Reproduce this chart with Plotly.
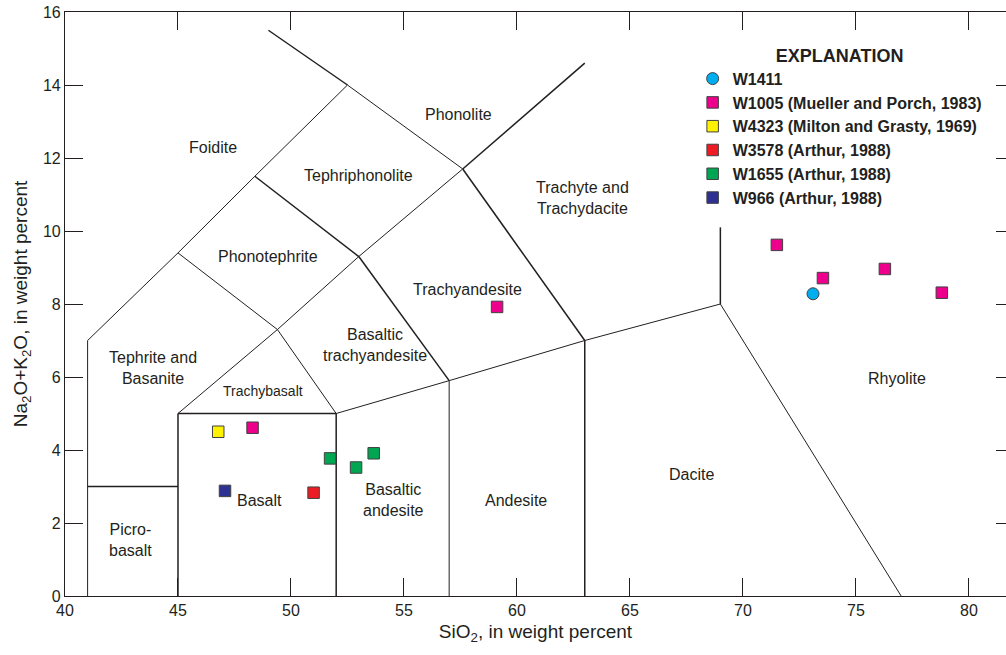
import plotly.graph_objects as go

# ---------------- data ----------------
# TAS field boundaries (SiO2, Na2O+K2O) segment endpoints
thick_segments = [
    [(57.6, 11.7), (63.0, 14.6)],
    [(52.5, 14.0), (49.0, 15.5)],
    [(48.4, 11.5), (53.0, 9.3)],
    [(53.0, 9.3), (57.0, 5.9)],
    [(57.6, 11.7), (63.0, 7.0)],
    [(41.0, 3.0), (45.0, 3.0)],
    [(45.0, 0.0), (45.0, 5.0)],
    [(45.0, 5.0), (52.0, 5.0)],
    [(52.0, 0.0), (52.0, 5.0)],
    [(63.0, 0.0), (63.0, 7.0)],
    [(69.0, 8.0), (69.0, 10.1)],
]
thin_segments = [
    [(41.0, 0.0), (41.0, 7.0)],
    [(41.0, 7.0), (45.0, 9.4)],
    [(45.0, 9.4), (48.4, 11.5)],
    [(48.4, 11.5), (52.5, 14.0)],
    [(52.5, 14.0), (57.6, 11.7)],
    [(45.0, 5.0), (49.4, 7.3)],
    [(49.4, 7.3), (52.0, 5.0)],
    [(49.4, 7.3), (45.0, 9.4)],
    [(49.4, 7.3), (53.0, 9.3)],
    [(53.0, 9.3), (57.6, 11.7)],
    [(52.0, 5.0), (57.0, 5.9)],
    [(57.0, 5.9), (63.0, 7.0)],
    [(57.0, 0.0), (57.0, 5.9)],
    [(63.0, 7.0), (69.0, 8.0)],
    [(69.0, 8.0), (77.0, 0.0)],
]

# field names and label positions
field_names = ["Foidite", "Phonolite", "Tephriphonolite", "Phonotephrite",
               "Trachyte and<br>Trachydacite", "Trachyandesite",
               "Tephrite and<br>Basanite", "Basaltic<br>trachyandesite",
               "Basalt", "Basaltic<br>andesite", "Andesite", "Dacite",
               "Rhyolite", "Picro-<br>basalt"]
field_x = [46.55, 57.4, 52.98, 48.98, 62.92, 57.79, 43.89, 53.7,
           48.6, 54.53, 59.96, 67.74, 76.8, 42.88]
field_y = [12.3, 13.18, 11.53, 9.29, 10.9, 8.41, 6.25, 6.88,
           2.63, 2.62, 2.63, 3.34, 5.97, 1.53]
small_field_name = "Trachybasalt"
small_field_x = 48.74
small_field_y = 5.62

# samples
series_names = ["W1411", "W1005 (Mueller and Porch, 1983)",
                "W4323 (Milton and Grasty, 1969)", "W3578 (Arthur, 1988)",
                "W1655 (Arthur, 1988)", "W966 (Arthur, 1988)"]
series_sio2 = [
    [73.1],
    [71.5, 73.54, 76.28, 78.8, 59.12, 48.3],
    [46.78],
    [51.0],
    [51.73, 52.88, 53.66],
    [47.08],
]
series_alk = [
    [8.28],
    [9.62, 8.71, 8.96, 8.31, 7.92, 4.61],
    [4.50],
    [2.83],
    [3.77, 3.52, 3.91],
    [2.88],
]
series_colors = ["#00AEEF", "#EC008C", "#FFF200", "#ED1C24", "#00A651", "#2E3192"]
series_symbols = ["circle", "square", "square", "square", "square", "square"]

x_ticks = [40, 45, 50, 55, 60, 65, 70, 75, 80]
y_ticks = [0, 2, 4, 6, 8, 10, 12, 14, 16]

INK = "#231F20"
FONT = "Liberation Sans, Arial, sans-serif"


def seg_xy(segs):
    xs, ys = [], []
    for (a, b) in segs:
        xs += [a[0], b[0], None]
        ys += [a[1], b[1], None]
    return xs, ys


fig = go.Figure()

tx, ty = seg_xy(thin_segments)
fig.add_trace(go.Scatter(x=tx, y=ty, mode="lines", line=dict(color=INK, width=1.0),
                         showlegend=False, hoverinfo="skip"))
kx, ky = seg_xy(thick_segments)
fig.add_trace(go.Scatter(x=kx, y=ky, mode="lines", line=dict(color=INK, width=1.5),
                         showlegend=False, hoverinfo="skip"))

for name, xs, ys, col, sym in zip(series_names, series_sio2, series_alk,
                                  series_colors, series_symbols):
    fig.add_trace(go.Scatter(
        x=xs, y=ys, mode="markers", name=name,
        marker=dict(symbol=sym, size=12 if sym == "circle" else 11.5, color=col,
                    line=dict(color="#414042", width=1)),
    ))

# right-side inner ticks (axis itself lies just beyond the visible frame)
fig.add_trace(go.Scatter(x=[], y=[], yaxis="y2", showlegend=False, hoverinfo="skip"))

for name, x, y in zip(field_names, field_x, field_y):
    fig.add_annotation(x=x, y=y, text=name, showarrow=False,
                       font=dict(family=FONT, size=16, color=INK))
fig.add_annotation(x=small_field_x, y=small_field_y, text=small_field_name,
                   showarrow=False, font=dict(family=FONT, size=14, color=INK))

fig.update_layout(
    width=1006, height=655,
    margin=dict(l=65, r=0, t=12, b=59),
    paper_bgcolor="white", plot_bgcolor="white",
    font=dict(family=FONT, color=INK),
    xaxis=dict(range=[40, 81.64], tickvals=x_ticks, ticks="inside", ticklen=18,
               tickwidth=1, tickcolor=INK, showline=True, linecolor=INK, linewidth=1.2,
               mirror="ticks", showgrid=False, zeroline=False,
               tickfont=dict(family=FONT, size=16, color=INK),
               title=dict(text="SiO<sub>2</sub>, in weight percent",
                          font=dict(family=FONT, size=19, color=INK), standoff=6)),
    yaxis=dict(range=[0, 16], tickvals=y_ticks, ticks="inside", ticklen=18,
               tickwidth=1, tickcolor=INK, showline=True, linecolor=INK, linewidth=1.2,
               mirror=False, showgrid=False, zeroline=False,
               tickfont=dict(family=FONT, size=16, color=INK),
               title=dict(text="Na<sub>2</sub>O+K<sub>2</sub>O, in weight percent",
                          font=dict(family=FONT, size=19, color=INK), standoff=10)),
    yaxis2=dict(range=[0, 16], overlaying="y", side="right", tickvals=y_ticks[1:-1],
                ticks="inside", ticklen=10, tickwidth=1, tickcolor=INK,
                showticklabels=False, showline=False, showgrid=False, zeroline=False),
    legend=dict(x=0.667, y=0.955, xanchor="left", yanchor="top",
                bgcolor="rgba(0,0,0,0)", borderwidth=0,
                font=dict(family=FONT, size=16, color=INK, weight="bold"),
                title=dict(text="<b>EXPLANATION</b>", side="top center",
                           font=dict(family=FONT, size=18, color=INK))),
)

fig.write_html("out.html")
